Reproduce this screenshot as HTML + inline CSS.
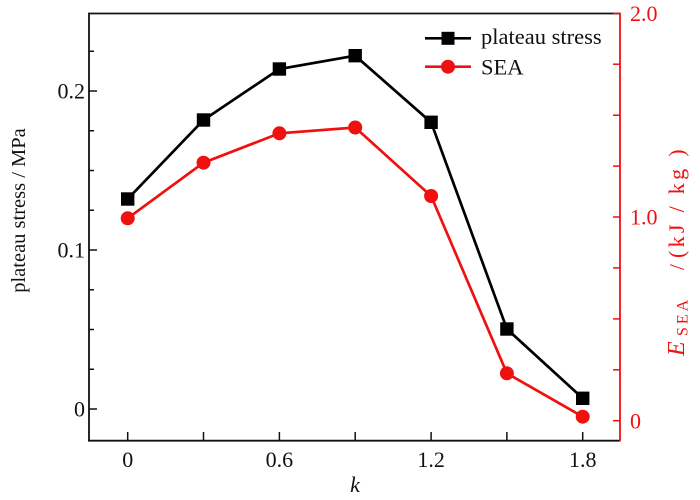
<!DOCTYPE html>
<html><head><meta charset="utf-8"><style>
html,body{margin:0;padding:0;background:#fff;}
svg{display:block;}
text{font-family:"Liberation Serif","Times New Roman",serif;}
</style></head><body>
<svg width="700" height="500" viewBox="0 0 700 500" xmlns="http://www.w3.org/2000/svg">
<rect width="700" height="500" fill="#fff"/>
<!-- frame -->
<line x1="89" y1="13.5" x2="620" y2="13.5" stroke="#111" stroke-width="1.8"/>
<line x1="89" y1="12.6" x2="89" y2="441.5" stroke="#111" stroke-width="1.8"/>
<line x1="88" y1="440.7" x2="620" y2="440.7" stroke="#111" stroke-width="1.8"/>
<line x1="620" y1="12.6" x2="620" y2="441.5" stroke="#f01010" stroke-width="1.8"/>
<!-- left ticks -->
<g stroke="#111" stroke-width="1.5">
<line x1="89" y1="409" x2="97" y2="409"/>
<line x1="89" y1="369.25" x2="94" y2="369.25"/>
<line x1="89" y1="329.5" x2="94" y2="329.5"/>
<line x1="89" y1="289.75" x2="94" y2="289.75"/>
<line x1="89" y1="250" x2="97" y2="250"/>
<line x1="89" y1="210.25" x2="94" y2="210.25"/>
<line x1="89" y1="170.5" x2="94" y2="170.5"/>
<line x1="89" y1="130.75" x2="94" y2="130.75"/>
<line x1="89" y1="91" x2="97" y2="91"/>
<line x1="89" y1="51.25" x2="94" y2="51.25"/>
</g>
<!-- bottom ticks -->
<g stroke="#111" stroke-width="1.5">
<line x1="127.7" y1="440" x2="127.7" y2="432"/>
<line x1="203.5" y1="440" x2="203.5" y2="432"/>
<line x1="279.4" y1="440" x2="279.4" y2="432"/>
<line x1="355.2" y1="440" x2="355.2" y2="432"/>
<line x1="431.1" y1="440" x2="431.1" y2="432"/>
<line x1="506.9" y1="440" x2="506.9" y2="432"/>
<line x1="582.7" y1="440" x2="582.7" y2="432"/>
</g>
<!-- right ticks -->
<g stroke="#f01010" stroke-width="1.5">
<line x1="620" y1="420.7" x2="613" y2="420.7"/>
<line x1="620" y1="369.8" x2="613" y2="369.8"/>
<line x1="620" y1="318.9" x2="613" y2="318.9"/>
<line x1="620" y1="267.9" x2="613" y2="267.9"/>
<line x1="620" y1="217" x2="613" y2="217"/>
<line x1="620" y1="166.1" x2="613" y2="166.1"/>
<line x1="620" y1="115.2" x2="613" y2="115.2"/>
<line x1="620" y1="64.2" x2="613" y2="64.2"/>
<line x1="620" y1="13.3" x2="613" y2="13.3"/>
</g>
<!-- left tick labels -->
<g font-size="22" fill="#111" text-anchor="end">
<text x="85" y="98.5">0.2</text>
<text x="85" y="257.5">0.1</text>
<text x="85" y="416.5">0</text>
</g>
<!-- bottom tick labels -->
<g font-size="22" fill="#111" text-anchor="middle">
<text x="127.7" y="467">0</text>
<text x="279.4" y="467">0.6</text>
<text x="431.1" y="467">1.2</text>
<text x="582.7" y="467">1.8</text>
</g>
<!-- right tick labels -->
<g font-size="22" fill="#f01010" text-anchor="start">
<text x="630" y="21">2.0</text>
<text x="630" y="224.5">1.0</text>
<text x="630" y="428.5">0</text>
</g>
<!-- axis titles -->
<text x="355" y="492" font-size="22" font-style="italic" fill="#111" text-anchor="middle">k</text>
<text transform="translate(25,210.5) rotate(-90)" font-size="20.5" fill="#111" text-anchor="middle">plateau stress / MPa</text>
<g transform="translate(684,250) rotate(-90)" fill="#f01010">
<text x="-106" y="0" font-size="24" font-style="italic">E</text>
<text x="-86" y="3.5" font-size="16" letter-spacing="3">SEA</text>
<text x="-20" y="0" font-size="21">/</text>
<text x="-8" y="0" font-size="22" letter-spacing="3.3">(kJ / kg )</text>
</g>
<!-- plateau stress series -->
<polyline fill="none" stroke="#000" stroke-width="2.7" stroke-linejoin="miter" points="127.7,199 203.5,120 279.4,69 355.2,55.7 431.1,122.3 506.9,329 582.7,398.3"/>
<g fill="#000">
<rect x="121" y="192.3" width="13.4" height="13.4"/>
<rect x="196.8" y="113.3" width="13.4" height="13.4"/>
<rect x="272.7" y="62.3" width="13.4" height="13.4"/>
<rect x="348.5" y="49" width="13.4" height="13.4"/>
<rect x="424.4" y="115.6" width="13.4" height="13.4"/>
<rect x="500.2" y="322.3" width="13.4" height="13.4"/>
<rect x="576" y="391.6" width="13.4" height="13.4"/>
</g>
<!-- SEA series -->
<polyline fill="none" stroke="#f01010" stroke-width="2.7" points="127.7,218.3 203.5,162.7 279.4,133.3 355.2,127.5 431.1,196 506.9,373.3 582.7,416.7"/>
<g fill="#f01010">
<circle cx="127.7" cy="218.3" r="7"/>
<circle cx="203.5" cy="162.7" r="7"/>
<circle cx="279.4" cy="133.3" r="7"/>
<circle cx="355.2" cy="127.5" r="7"/>
<circle cx="431.1" cy="196" r="7"/>
<circle cx="506.9" cy="373.3" r="7"/>
<circle cx="582.7" cy="416.7" r="7"/>
</g>
<!-- legend -->
<line x1="425" y1="38.3" x2="471" y2="38.3" stroke="#000" stroke-width="2.7"/>
<rect x="441.5" y="31.8" width="13" height="13" fill="#000"/>
<text x="481" y="44" font-size="22.5" fill="#111">plateau stress</text>
<line x1="425" y1="66.7" x2="471" y2="66.7" stroke="#f01010" stroke-width="2.7"/>
<circle cx="448" cy="66.7" r="7" fill="#f01010"/>
<text x="481" y="74.5" font-size="22.5" fill="#111">SEA</text>
</svg>
</body></html>
